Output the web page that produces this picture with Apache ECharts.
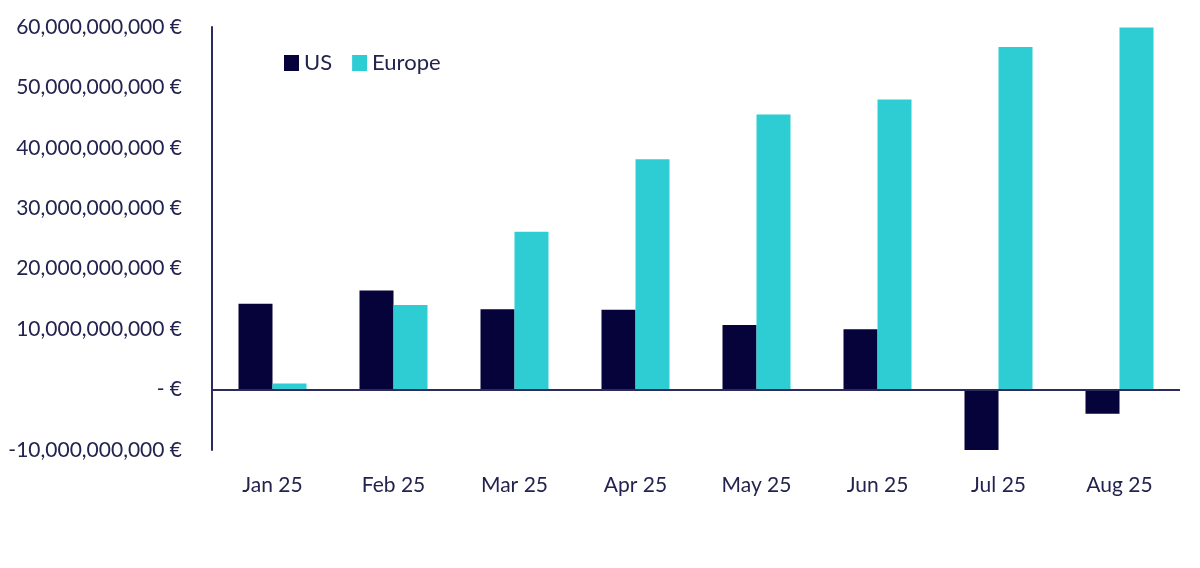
<!DOCTYPE html>
<html>
<head>
<meta charset="utf-8">
<title>US vs Europe</title>
<style type="text/css">
	html,body{margin:0;padding:0;background:#fff;}
	#main{width:1200px;height:568px;}
</style>
</head>
<body>
<div id="main"></div>
<script src="https://cdn.jsdelivr.net/npm/echarts@6/dist/echarts.min.js"></script>
<script type="text/javascript">
	// monthly values, EUR
	var months = ['Jan 25','Feb 25','Mar 25','Apr 25','May 25','Jun 25','Jul 25','Aug 25'];
	var usValues = [14.2e9, 16.4e9, 13.3e9, 13.2e9, 10.7e9, 10.0e9, -10.2e9, -4.0e9];
	var europeValues = [1.0e9, 14.0e9, 26.1e9, 38.1e9, 45.5e9, 48.0e9, 56.7e9, 59.9e9];
	var yTicks = {min: -10e9, max: 60e9, interval: 10e9};

	var navy = '#06033a';
	var textColor = '#23234f';
	var chart = echarts.init(document.getElementById('main'));
	var option = {
		animation: false,
		textStyle: {fontFamily: 'Lato'},
		grid: {left: 212, right: 20, top: 27, bottom: 118},
		legend: {
			left: 279, top: 47, icon: 'rect',
			itemWidth: 15, itemHeight: 16, itemGap: 20,
			textStyle: {fontSize: 22, color: textColor},
			data: ['US','Europe']
		},
		xAxis: {
			type: 'category',
			data: months,
			axisLine: {show: false, onZero: false},
			axisTick: {show: false},
			axisLabel: {fontSize: 21, color: textColor, margin: 25}
		},
		yAxis: {
			type: 'value',
			min: yTicks.min, max: yTicks.max, interval: yTicks.interval,
			axisLine: {show: true, lineStyle: {color: '#2b2b5c', width: 2}},
			axisTick: {show: false},
			splitLine: {show: false},
			axisLabel: {
				fontSize: 21, color: textColor, margin: 30,
				formatter: function(v){
					if(v == 0) return '- €';
					return v.toLocaleString('en-US') + ' €';
				}
			}
		},
		series: [
			{
				name: 'US', type: 'bar', data: usValues,
				barWidth: 34, barGap: '0%',
				itemStyle: {color: navy},
				markLine: {
					silent: true, symbol: 'none',
					label: {show: false},
					lineStyle: {color: '#2b2b5c', width: 2, type: 'solid'},
					data: [{yAxis: 0}]
				}
			},
			{
				name: 'Europe', type: 'bar', data: europeValues,
				barWidth: 34,
				itemStyle: {color: '#2ecdd3'}
			}
		]
	};
	chart.setOption(option);
</script>
</body>
</html>
